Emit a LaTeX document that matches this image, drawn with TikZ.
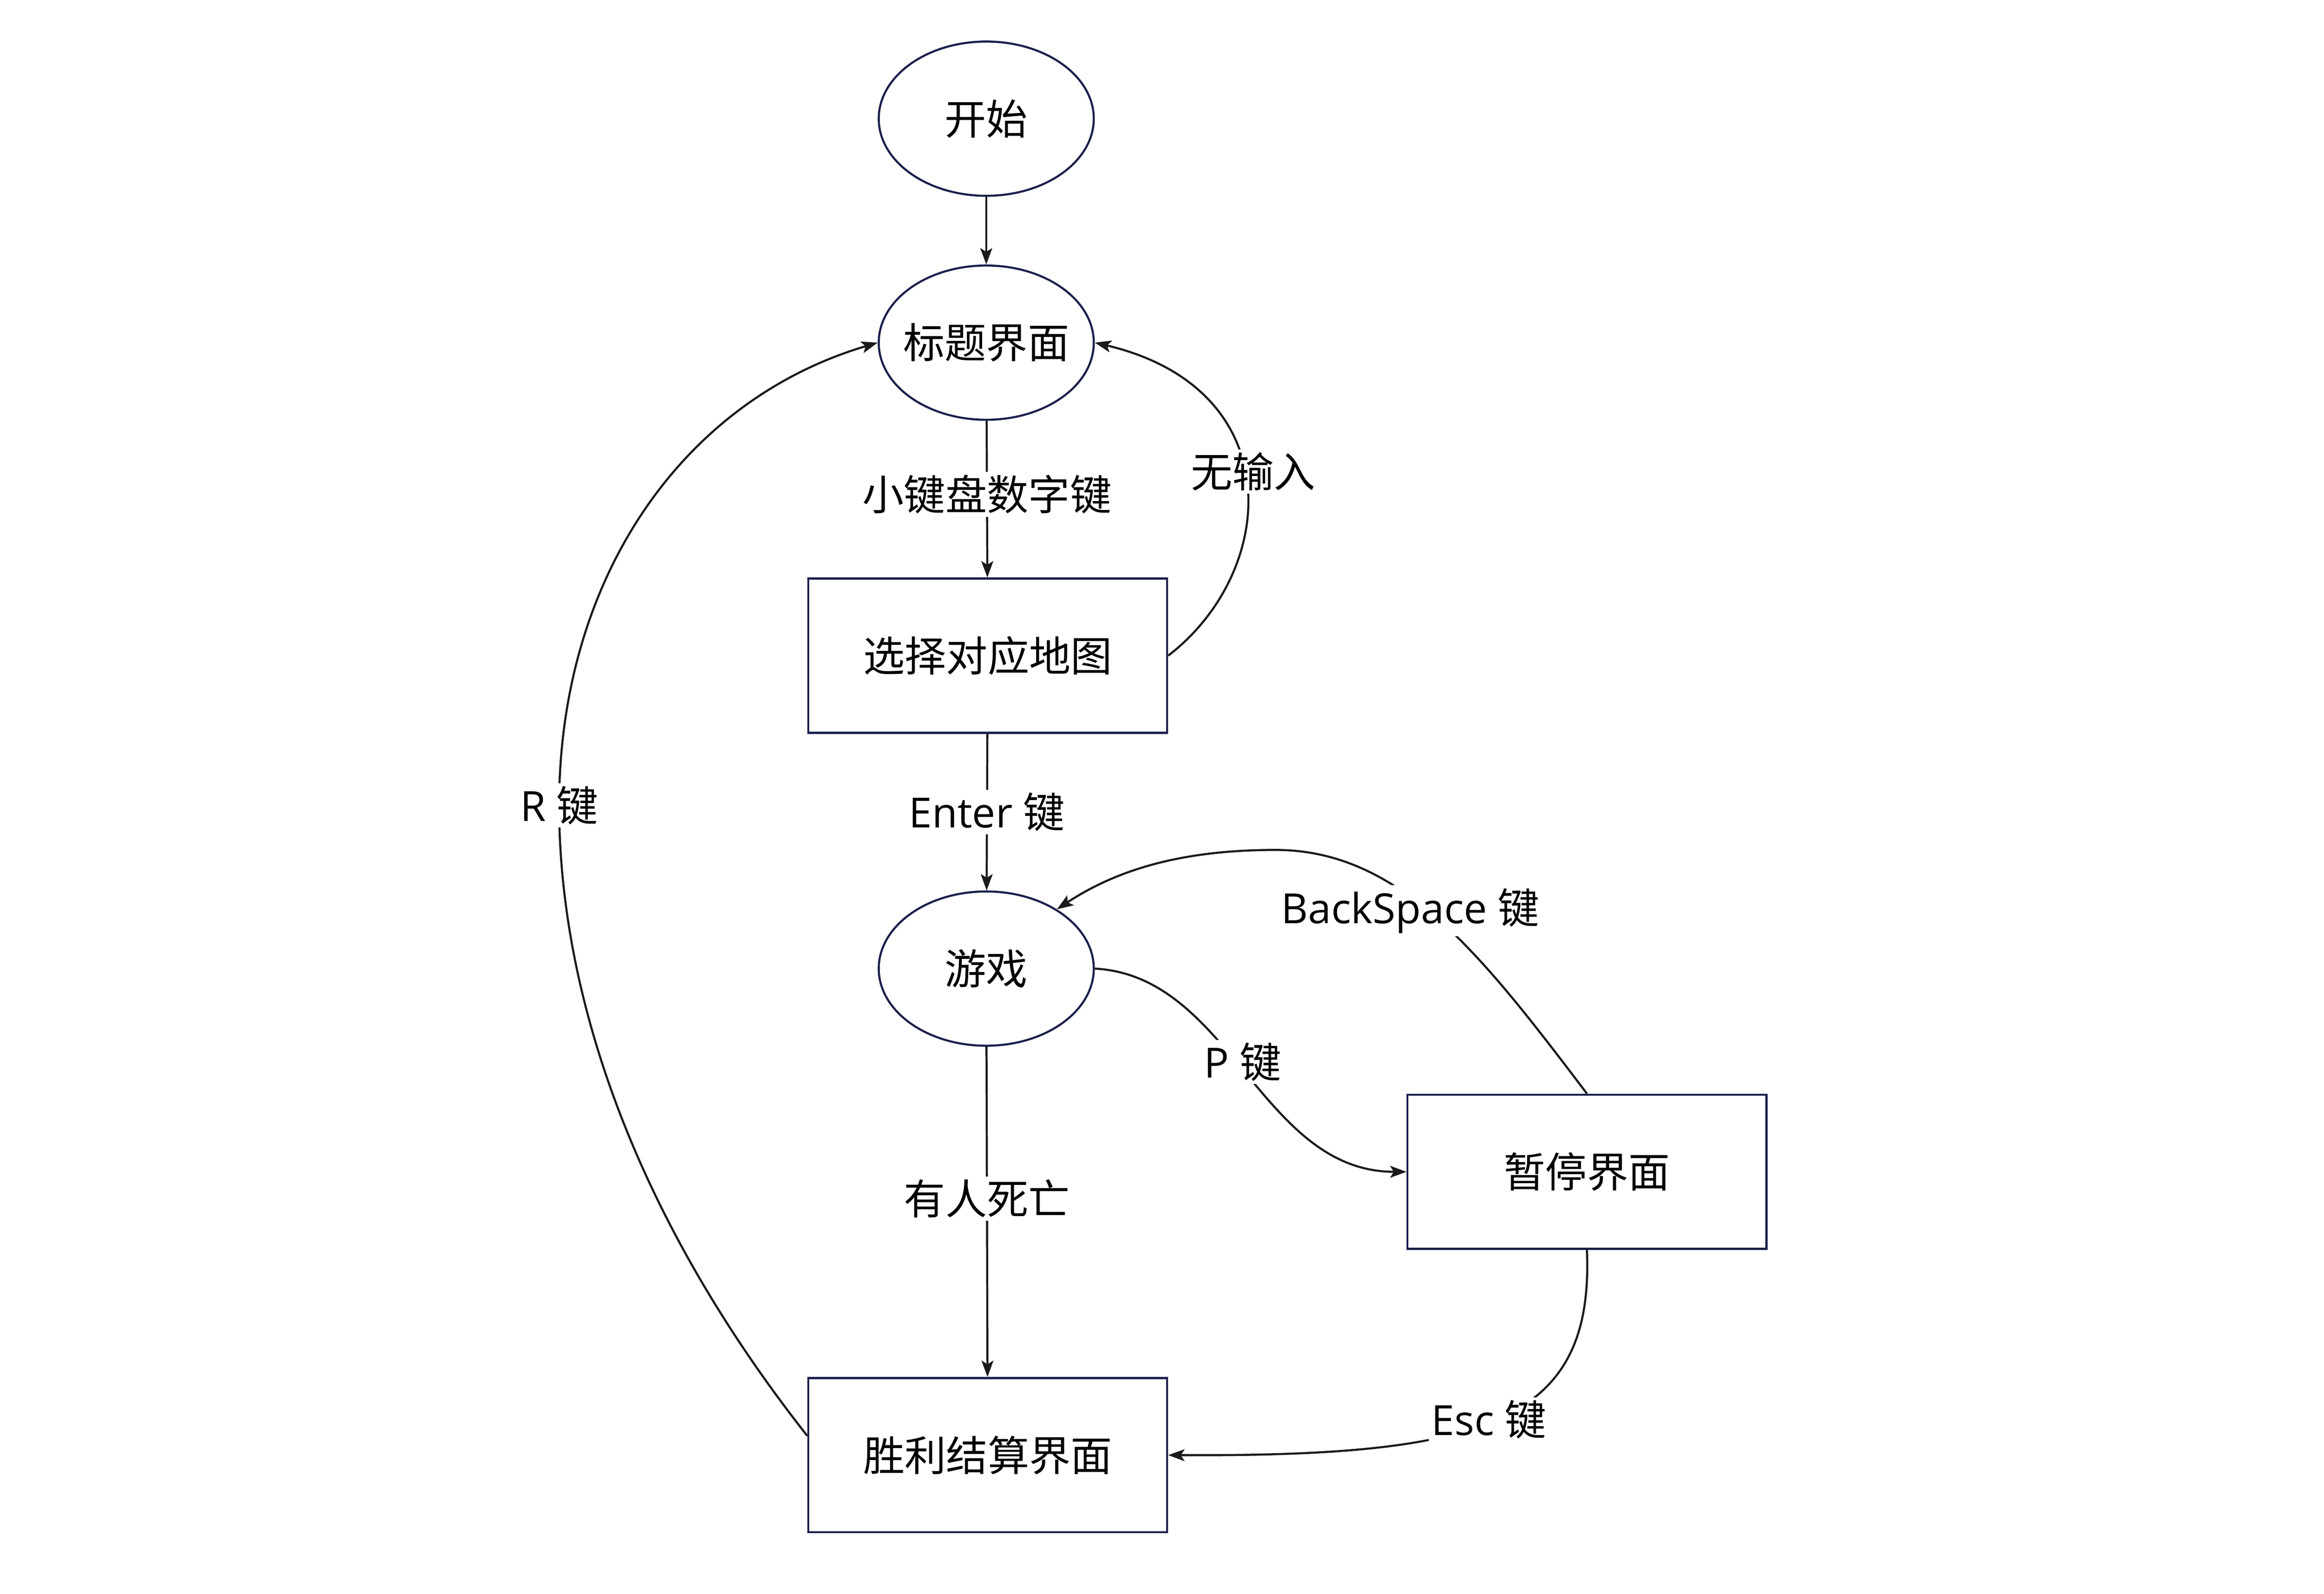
\documentclass[tikz,border=0pt]{standalone}
\usepackage{fontspec}
\setmainfont{Open Sans}
\newfontfamily\cjk{Noto Sans CJK SC}
\usetikzlibrary{shapes.geometric,arrows.meta}
\definecolor{nodeline}{HTML}{1B1F4B}
\definecolor{edgeline}{HTML}{1A1A1A}
\tikzset{
  every node/.style={font=\fontsize{28pt}{34pt}\selectfont},
  oval/.style={ellipse, draw=nodeline, line width=1.4pt, minimum width=145pt, minimum height=104pt, inner sep=0pt},
  box/.style={rectangle, draw=nodeline, line width=1.4pt, minimum width=242pt, minimum height=104pt, inner sep=0pt},
  conn/.style={draw=edgeline, line width=1.4pt, -{Stealth[length=11pt,width=8pt,inset=2.5pt]}},
  lbl/.style={fill=white, inner sep=2pt},
}
\begin{document}
\begin{tikzpicture}[x=1pt,y=-1pt]
\useasboundingbox[fill=white] (0,0) rectangle (1567,1074.4);
\node[oval] (start) at (665,80) {\makebox[0pt]{\cjk 开始}};
\node[oval] (title) at (665,231) {\makebox[0pt]{\cjk 标题界面}};
\node[box] (sel) at (666,442) {\cjk 选择对应地图};
\node[oval] (game) at (665,653) {\makebox[0pt]{\cjk 游戏}};
\node[box] (pause) at (1070,790) {\cjk 暂停界面};
\node[box] (result) at (666,981) {\cjk 胜利结算界面};

\draw[conn] (start) -- (title);
\draw[conn] (title) -- node[lbl,pos=0.47]{\cjk 小键盘数字键} (sel);
\draw[conn] (sel) -- node[lbl]{Enter {\cjk 键}} (game);
\draw[conn] (game) -- node[lbl,pos=0.46]{\cjk 有人死亡} (result);

\draw[conn] (sel.east) .. controls (862,385) and (870,262) .. (title.east);
\node[lbl] (l1) at (845,318) {\cjk 无输入};
\draw[conn] (game.east) .. controls (830,658) and (850,790) .. (pause.west);
\node[lbl] (l2) at (838,716) {P {\cjk 键}};
\draw[conn] (pause.north) .. controls (1000,645) and (945,573) .. (860,573) .. controls (800,573) and (755,585) .. (game.40);
\node[lbl] (l3) at (951,614) {BackSpace {\cjk 键}};
\draw[conn] (pause.south) .. controls (1075,960) and (1000,982) .. (result.east);
\node[lbl] (l4) at (1004,957) {Esc {\cjk 键}};
\draw[conn] ([yshift=13pt]result.west) .. controls (420,810) and (377,660) .. (377,543) .. controls (377,390) and (460,270) .. (title.west);
\node[lbl] (l5) at (377,543) {R {\cjk 键}};
\end{tikzpicture}
\end{document}
